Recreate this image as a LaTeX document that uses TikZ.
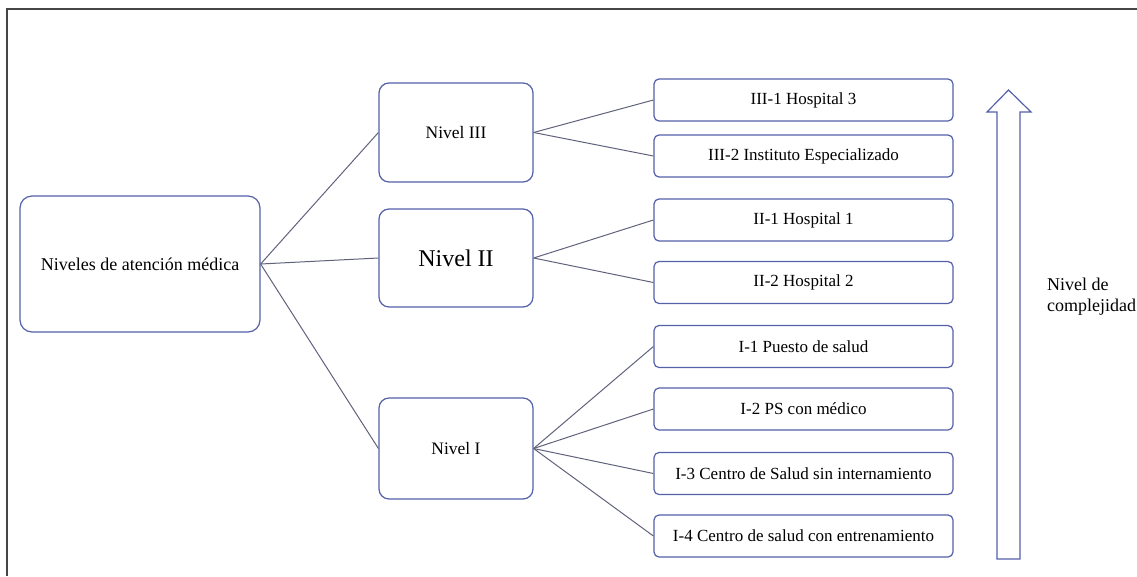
\documentclass[tikz,border=0pt]{standalone}
\usepackage{fontspec}
\setmainfont{Liberation Serif}
\definecolor{boxblue}{RGB}{84,96,170}
\definecolor{linegray}{RGB}{96,98,124}
\definecolor{framegray}{RGB}{70,70,70}
\tikzset{
	lvlbox/.style={draw=boxblue,line width=1.2pt,rounded corners=10pt,fill=white,
		minimum width=154pt,font=\fontsize{17.5}{20}\selectfont},
	leafbox/.style={draw=boxblue,line width=1.2pt,rounded corners=5pt,fill=white,
		minimum width=299pt,minimum height=42pt,font=\fontsize{17}{20}\selectfont},
	link/.style={draw=linegray,line width=1pt}
}

\begin{document}
\begin{tikzpicture}[x=1pt,y=-1pt]
		\useasboundingbox (0,0) rectangle (1137,576);
		\draw[framegray,line width=1.2pt] (7,576) -- (7,9) -- (1137,9);

		\node[lvlbox,rounded corners=12pt,minimum width=240pt,minimum height=136pt,font=\fontsize{18}{20}\selectfont] (raiz) at (140,264) {Niveles de atención médica};
		\node[lvlbox,minimum height=99pt] (n3) at (456,132.5) {Nivel III};
		\node[lvlbox,minimum height=98pt,font=\fontsize{24}{26}\selectfont] (n2) at (456,258) {Nivel II};
		\node[lvlbox,minimum height=101pt] (n1) at (456,448.5) {Nivel I};

		\foreach \y/\nom/\txt in
			{100/h31/{III-1 Hospital 3},156/h32/{III-2 Instituto Especializado},
			 220/h21/{II-1 Hospital 1},282.5/h22/{II-2 Hospital 2},
			 346.5/p11/{I-1 Puesto de salud},409/p12/{I-2 PS con médico},
			 473.5/p13/{I-3 Centro de Salud sin internamiento},536/p14/{I-4 Centro de salud con entrenamiento}}
				\node[leafbox] (\nom) at (803.5,\y) {\txt};

		\foreach \n in {n3,n2,n1}
			\draw[link] (raiz.east) -- (\n.west);
		\foreach \h in {h31,h32}
			\draw[link] (n3.east) -- (\h.west);
		\foreach \h in {h21,h22}
			\draw[link] (n2.east) -- (\h.west);
		\foreach \h in {p11,p12,p13,p14}
			\draw[link] (n1.east) -- (\h.west);

		% flecha de complejidad
		\draw[boxblue,line width=1.2pt,line join=miter]
			(997,559) -- (997,112) -- (987,112) -- (1008.5,90) -- (1031,112)
			-- (1020,112) -- (1020,559) -- cycle;
		\node[anchor=west,align=left,inner sep=0pt,font=\fontsize{18}{21}\selectfont] (compl) at (1047,297) {Nivel de\\complejidad};
	\end{tikzpicture}
\end{document}
